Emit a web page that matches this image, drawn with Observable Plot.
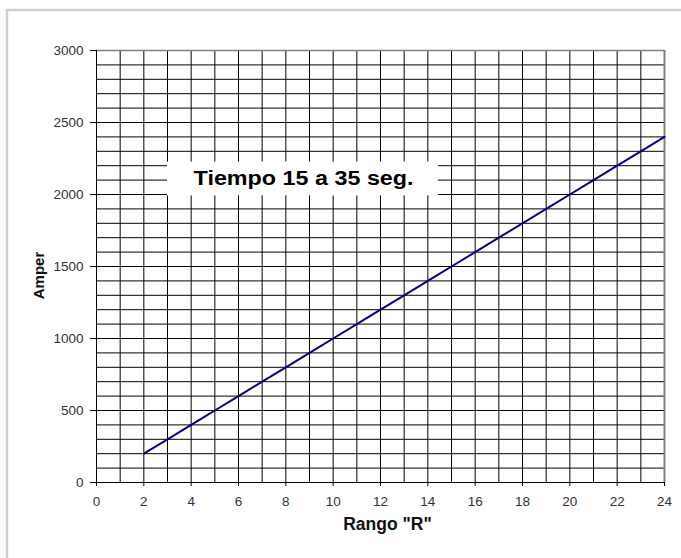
<!DOCTYPE html>
<html>
<head>
<meta charset="utf-8">
<script src="https://cdn.jsdelivr.net/npm/d3@7"></script>
<script src="https://cdn.jsdelivr.net/npm/@observablehq/plot@0.6"></script>
<style>
  html, body { margin: 0; padding: 0; background: #fff; }
  #chart { width: 681px; height: 558px; overflow: hidden; }
</style>
</head>
<body>
<div id="chart"></div>
<script>
// ---- data ----
const rango = [2, 3, 4, 5, 6, 7, 8, 9, 10, 11, 12, 13, 14, 15, 16, 17, 18, 19, 20, 21, 22, 23, 24];
const amper = [200, 300, 400, 500, 600, 700, 800, 900, 1000, 1100, 1200, 1300, 1400, 1500, 1600, 1700, 1800, 1900, 2000, 2100, 2200, 2300, 2400];
const xTicks = [0, 2, 4, 6, 8, 10, 12, 14, 16, 18, 20, 22, 24];
const yTicks = [0, 500, 1000, 1500, 2000, 2500, 3000];
const xLabel = 'Rango "R"';
const yLabel = "Amper";
const annotationText = "Tiempo 15 a 35 seg.";

const xDomain = [0, 24], yDomain = [0, 3000];
const xGrid = d3.range(xDomain[0], xDomain[1] + 1, 1);
const yGrid = d3.range(yDomain[0], yDomain[1] + 1, 100);
const data = rango.map((r, i) => ({r, a: amper[i]}));

// annotation box (data units)
const box = [{x1: 3, x2: 14.45, y1: 1990, y2: 2225}];
const note = [{x: 8.75, y: 2113, t: annotationText}];

const font = "'Liberation Sans', Arial, sans-serif";

const svg = Plot.plot({
  width: 681, height: 558,
  marginLeft: 96, marginRight: 17, marginTop: 50, marginBottom: 76,
  style: {background: "transparent", fontFamily: font, overflow: "visible"},
  x: {domain: xDomain},
  y: {domain: yDomain},
  marks: [
    Plot.ruleX(xGrid, {stroke: "#000", strokeWidth: 1}),
    Plot.ruleY(yGrid, {stroke: "#000", strokeWidth: 1}),
    Plot.ruleY([yDomain[1]], {stroke: "#808080", strokeWidth: 1.5}),
    Plot.ruleX([xDomain[1]], {stroke: "#808080", strokeWidth: 2}),
    Plot.ruleX([xDomain[0]], {stroke: "#000", strokeWidth: 1}),
    Plot.ruleY([yDomain[0]], {stroke: "#000", strokeWidth: 1}),
    Plot.axisX(xTicks, {tickSize: 4, tickPadding: 10, fontSize: 13.5, color: "#333", stroke: "#000", label: null, tickFormat: d => String(d)}),
    Plot.axisY(yTicks, {tickSize: 6, tickPadding: 7, fontSize: 13.5, color: "#333", stroke: "#000", label: null, tickFormat: d => String(d)}),
    Plot.rect(box, {x1: "x1", x2: "x2", y1: "y1", y2: "y2", fill: "#fff"}),
    Plot.line(data, {x: "r", y: "a", stroke: "#000080", strokeWidth: 2}),
    Plot.text(note, {x: "x", y: "y", text: "t", fontSize: 20, fontWeight: "bold", fill: "#000", className: "annot"}),
    Plot.text([xLabel], {frameAnchor: "bottom", dx: 7, dy: 47, fontSize: 17.5, fontWeight: "bold", fill: "#111"}),
    Plot.text([yLabel], {frameAnchor: "left", textAnchor: "middle", rotate: -90, dx: -57, dy: 9, fontSize: 15, fontWeight: "bold", fill: "#111"})
  ]
});

// outer chart-area frame (extends past the photographed window)
d3.select(svg).insert("rect", ":first-child")
  .attr("x", 7).attr("y", 10).attr("width", 720).attr("height", 620)
  .attr("fill", "#fff").attr("stroke", "#cfcfcf").attr("stroke-width", 2.5);

d3.select(svg).selectAll(".annot text")
  .attr("textLength", 220).attr("lengthAdjust", "spacingAndGlyphs");

document.getElementById("chart").appendChild(svg);
</script>
</body>
</html>
